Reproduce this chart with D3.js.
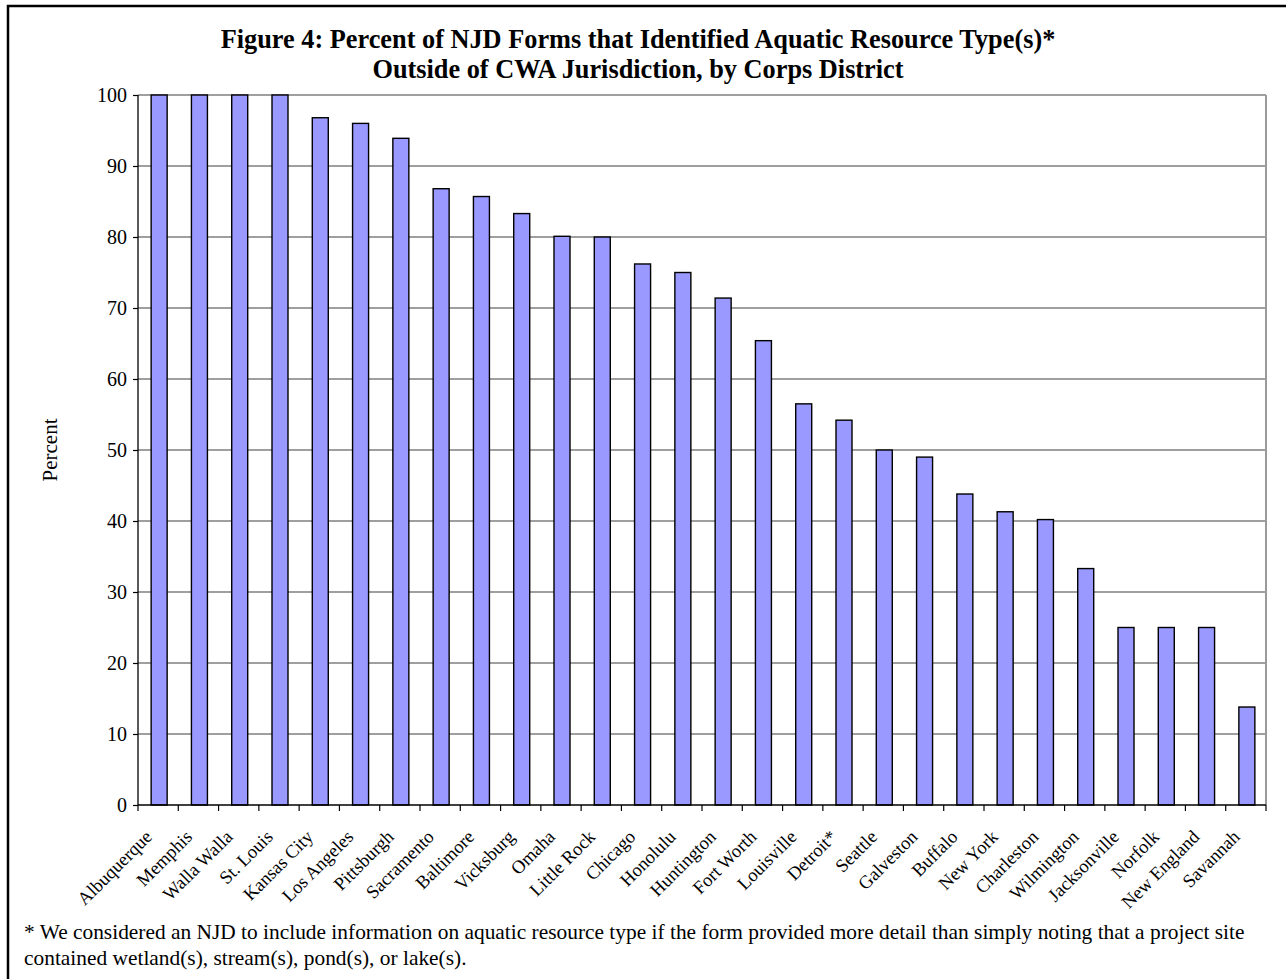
<!DOCTYPE html>
<html>
<head>
<meta charset="utf-8">
<script src="https://cdn.jsdelivr.net/npm/d3@7"></script>
<style>
  html, body { margin: 0; padding: 0; background: #fff; }
  svg { display: block; }
  text { font-family: "Liberation Serif", "Times New Roman", serif; fill: #000; }
</style>
</head>
<body>
<svg id="chart" width="1286" height="979"></svg>
<script>
// Corps districts, in the order shown (descending share)
const districts = [
  "Albuquerque", "Memphis", "Walla Walla", "St. Louis", "Kansas City",
  "Los Angeles", "Pittsburgh", "Sacramento", "Baltimore", "Vicksburg",
  "Omaha", "Little Rock", "Chicago", "Honolulu", "Huntington",
  "Fort Worth", "Louisville", "Detroit*", "Seattle", "Galveston",
  "Buffalo", "New York", "Charleston", "Wilmington", "Jacksonville",
  "Norfolk", "New England", "Savannah"
];

// Percent of NJD forms identifying aquatic resource type(s) outside CWA jurisdiction
const percentValues = [
  100, 100, 100, 100, 96.8,
  96.0, 93.9, 86.8, 85.7, 83.3,
  80.1, 80.0, 76.2, 75.0, 71.4,
  65.4, 56.5, 54.2, 50.0, 49.0,
  43.8, 41.3, 40.2, 33.3, 25.0,
  25.0, 25.0, 13.8
];

const yTicks = [0, 10, 20, 30, 40, 50, 60, 70, 80, 90, 100];

const titleLines = [
  "Figure 4: Percent of NJD Forms that Identified Aquatic Resource Type(s)*",
  "Outside of CWA Jurisdiction, by Corps District"
];
const footnoteLines = [
  "* We considered an NJD to include information on aquatic resource type if the form provided more detail than simply noting that a project site",
  "contained wetland(s), stream(s), pond(s), or lake(s)."
];

const data = districts.map((d, i) => ({ name: d, value: percentValues[i] }));

const svg = d3.select("#chart");

// Outer frame (extends past the right and bottom edges)
svg.append("rect")
  .attr("x", 8).attr("y", 6)
  .attr("width", 1300).attr("height", 1000)
  .attr("fill", "#fff")
  .attr("stroke", "#000").attr("stroke-width", 2.5);

const plot = { left: 138, right: 1266, top: 95, bottom: 805 };

const x = d3.scaleBand()
  .domain(districts)
  .range([plot.left, plot.right])
  .paddingInner(0).paddingOuter(0);

const y = d3.scaleLinear()
  .domain([0, 100])
  .range([plot.bottom, plot.top]);

// Horizontal gridlines
svg.append("g")
  .selectAll("line")
  .data(yTicks.filter(t => t > 0))
  .join("line")
  .attr("x1", plot.left).attr("x2", plot.right)
  .attr("y1", d => y(d)).attr("y2", d => y(d))
  .attr("stroke", "#7f7f7f").attr("stroke-width", 1.3);

// Right border of plot area
svg.append("line")
  .attr("x1", plot.right).attr("x2", plot.right)
  .attr("y1", plot.top).attr("y2", plot.bottom)
  .attr("stroke", "#9a9a9a").attr("stroke-width", 2);

// Bars
const barWidth = 16;
svg.append("g")
  .selectAll("rect")
  .data(data)
  .join("rect")
  .attr("x", d => x(d.name) + x.bandwidth() / 2 - barWidth / 2 + 1)
  .attr("y", d => y(d.value))
  .attr("width", barWidth)
  .attr("height", d => y(0) - y(d.value))
  .attr("fill", "#9999ff")
  .attr("stroke", "#000")
  .attr("stroke-width", 1.4);

// Y axis
const yAxis = d3.axisLeft(y)
  .tickValues(yTicks)
  .tickSize(5)
  .tickPadding(6)
  .tickFormat(d3.format("d"));

const gy = svg.append("g")
  .attr("transform", `translate(${plot.left},0)`)
  .call(yAxis);
gy.select(".domain").attr("stroke", "#000").attr("stroke-width", 1.3)
  .attr("d", `M0,${plot.top}V${plot.bottom}`);
gy.selectAll(".tick line").attr("stroke", "#000").attr("stroke-width", 1.2);
gy.selectAll(".tick text")
  .attr("font-family", "Liberation Serif, Times New Roman, serif")
  .attr("font-size", 20)
  .attr("fill", "#000");

// X axis: baseline, ticks at band boundaries
svg.append("line")
  .attr("x1", plot.left).attr("x2", plot.right)
  .attr("y1", plot.bottom).attr("y2", plot.bottom)
  .attr("stroke", "#000").attr("stroke-width", 1.3);

const boundaries = districts.map(d => x(d)).concat([plot.right]);
svg.append("g")
  .selectAll("line")
  .data(boundaries)
  .join("line")
  .attr("x1", d => d).attr("x2", d => d)
  .attr("y1", plot.bottom).attr("y2", plot.bottom + 6)
  .attr("stroke", "#000").attr("stroke-width", 1.2);

// Rotated category labels
svg.append("g")
  .selectAll("text")
  .data(districts)
  .join("text")
  .attr("transform", d => `translate(${x(d) + x.bandwidth() / 2 - 5},${plot.bottom + 33}) rotate(-45)`)
  .attr("text-anchor", "end")
  .attr("font-size", 18.5)
  .text(d => d);

// Y axis title
svg.append("text")
  .attr("transform", `translate(57,${(plot.top + plot.bottom) / 2}) rotate(-90)`)
  .attr("text-anchor", "middle")
  .attr("font-size", 21)
  .text("Percent");

// Chart title
svg.append("g")
  .selectAll("text")
  .data(titleLines)
  .join("text")
  .attr("x", 638)
  .attr("y", (d, i) => 48 + i * 30)
  .attr("text-anchor", "middle")
  .attr("font-size", 26.3)
  .attr("font-weight", "bold")
  .text(d => d);

// Footnote
svg.append("g")
  .selectAll("text")
  .data(footnoteLines)
  .join("text")
  .attr("x", 24)
  .attr("y", (d, i) => 939 + i * 26)
  .attr("font-size", 21.4)
  .text(d => d);
</script>
</body>
</html>
